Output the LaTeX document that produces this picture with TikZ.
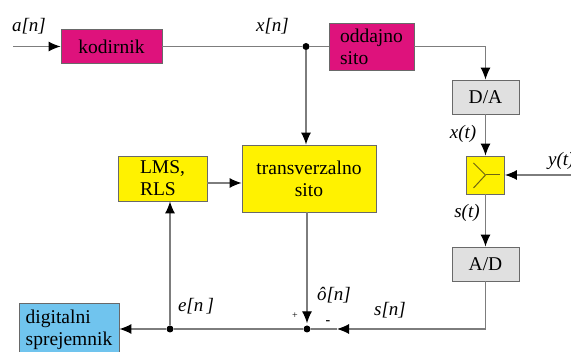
\documentclass[tikz,border=0pt]{standalone}
\usepackage{fontspec}
\setmainfont{Liberation Serif}
\usetikzlibrary{arrows.meta,calc}
\definecolor{mag}{RGB}{222,18,124}
\definecolor{yel}{RGB}{255,242,0}
\definecolor{lgray}{RGB}{224,224,224}
\definecolor{lblue}{RGB}{112,196,238}
\definecolor{wire}{RGB}{125,125,125}
\definecolor{edge}{RGB}{105,105,105}
\definecolor{olive}{RGB}{110,100,20}
\tikzset{
  blk/.style={draw=edge,line width=0.9pt,inner sep=0pt,font=\fontsize{19.5}{22}\selectfont},
  wirel/.style={draw=wire,line width=1.1pt},
  arr/.style={wirel,-{Latex[length=12pt,width=10pt,black]}},
  lbl/.style={font=\fontsize{19}{22}\selectfont\itshape,inner sep=0pt},
  dotn/.style={circle,fill=black,inner sep=0pt,minimum size=7pt},
}
\begin{document}
\begin{tikzpicture}[x=1pt,y=-1pt]
\useasboundingbox (0,0) rectangle (571,352);
\fill[white] (0,0) rectangle (571,352);
% blocks
\node[blk,fill=mag,minimum width=101pt,minimum height=34pt] (kod) at (111.5,46.5) {kodirnik};
\node[blk,fill=mag,minimum width=85pt,minimum height=47pt,align=left] (odd) at (371.5,46.5) {oddajno\\sito};
\node[blk,fill=lgray,minimum width=67pt,minimum height=34pt] (da) at (485.5,97) {D/A};
\node[blk,fill=yel,minimum width=38pt,minimum height=38pt] (mix) at (485.5,175) {};
\node[blk,fill=lgray,minimum width=67pt,minimum height=34pt] (ad) at (485.5,264) {A/D};
\node[blk,fill=yel,minimum width=134pt,minimum height=67pt,align=center] (tr) at (309,178.5) {transverzalno\\sito};
\node[blk,fill=yel,minimum width=89pt,minimum height=45pt,align=left] (lms) at (162.5,178.5) {LMS,\\RLS};
\node[blk,fill=lblue,minimum width=100pt,minimum height=54pt,align=left] (dig) at (69,330) {digitalni\\sprejemnik};
% mixer symbol
\draw[olive,line width=1pt] ($(mix.center)+(-12,-12)$) -- (mix.center) -- ($(mix.center)+(-12,13)$);
\draw[olive,line width=1pt] (mix.center) -- ($(mix.center)+(14,0)$);
% junctions
\node[dotn] (j1) at (306,46.5) {};
\node[dotn] (sum) at (307,329) {};
\node[dotn] (ej) at (170,329) {};
\coordinate (inp) at (13,46.5);
\coordinate (yin) at (571,175);
\coordinate (mtip) at (337,329);
% connectors
\draw[arr] (inp) -- (kod.west);
\draw[wirel] (kod.east) -- (j1) -- (odd.west);
\draw[arr] (odd.east) -| (da.north);
\draw[arr] (j1) -- (j1 |- tr.north);
\draw[arr] (da.south) -- (mix.north);
\draw[arr] (yin) -- (mix.east);
\draw[arr] (mix.south) -- (ad.north);
\draw[arr] (ad.south) |- (mtip);
\draw[wirel] (mtip) -- (sum);
\draw[arr,shorten >=2pt] (sum |- tr.south) -- (sum);
\draw[wirel] (sum) -- (ej);
\draw[arr] (ej) -- (dig.east |- ej);
\draw[arr] (ej) -- (lms.south -| ej);
\draw[arr] ([yshift=-4.5pt]lms.east) -- ([yshift=-4.5pt]tr.west);
% labels
\node[lbl] (la) at (29,26) {a[n]};
\node[lbl] (lx) at (272.5,26) {x[n]};
\node[lbl] (lxt) at (463,134) {x(t)};
\node[lbl,anchor=west] (lyt) at (548,161) {y(t)};
\node[lbl] (lst) at (467,213) {s(t)};
\node[lbl] (le) at (196,306) {e[n\,]};
\node[lbl] (lo) at (334,295) {ô[n]};
\node[lbl] (lsn) at (390,310) {s[n]};
\node[font=\fontsize{10}{10}\selectfont,inner sep=0pt] (lp) at (295,316) {+};
\node[font=\fontsize{14}{14}\selectfont\bfseries,inner sep=0pt] (lm) at (328,323) {-};
\end{tikzpicture}
\end{document}
